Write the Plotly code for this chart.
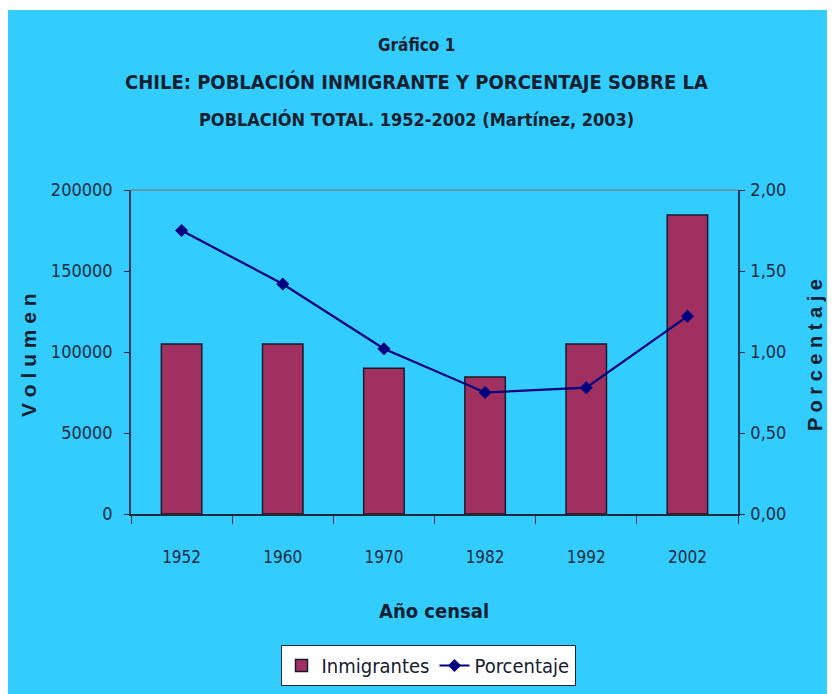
import plotly.graph_objects as go

years = ["1952", "1960", "1970", "1982", "1992", "2002"]
inmigrantes = [105000, 105000, 90000, 84500, 105000, 184500]
porcentaje = [1.75, 1.42, 1.02, 0.75, 0.78, 1.22]
left_ticks = [0, 50000, 100000, 150000, 200000]
right_ticks = [0, 0.5, 1.0, 1.5, 2.0]
right_ticktext = ["0,00", "0,50", "1,00", "1,50", "2,00"]

# The page body has an 8px margin, so the figure is 8px smaller and all
# reference pixel coordinates are shifted by OFF.
OFF = 8
W, H = 835 - OFF, 694 - OFF
L, T = 131 - OFF, 190 - OFF
PW, PH = 607, 324
R, B = W - L - PW, H - T - PH

def px(x):
    return (x - OFF - L) / PW

def py(y):
    return (T + PH - (y - OFF)) / PH

FONT = "DejaVu Sans Condensed, Liberation Sans Narrow, Arial Narrow, sans-serif"
TXT = "#14202e"
BG = "#33CCFF"

fig = go.Figure()
fig.add_trace(go.Bar(
    x=years, y=inmigrantes, name="Inmigrantes",
    marker=dict(color="#A0305F", line=dict(color="#1a1a2a", width=1.5)),
    yaxis="y",
))
fig.add_trace(go.Scatter(
    x=years, y=porcentaje, name="Porcentaje", mode="lines+markers",
    line=dict(color="#000080", width=2.2),
    marker=dict(symbol="diamond", size=10, color="#000080"),
    yaxis="y2",
))

fig.update_layout(
    width=W, height=H,
    margin=dict(l=L, r=R, t=T, b=B, autoexpand=False),
    paper_bgcolor=BG, plot_bgcolor=BG,
    bargap=0.6,
    separators=",.",
    font=dict(family=FONT, color=TXT, size=18),
    showlegend=True,
    legend=dict(
        orientation="h", x=px(428), xanchor="center", y=py(645), yanchor="top",
        bgcolor="white", bordercolor="#1a2a3a", borderwidth=1,
        font=dict(family=FONT, size=20, color="#14202e"),
        itemwidth=30, traceorder="normal",
    ),
    xaxis=dict(
        type="category", tickson="boundaries", ticks="outside", ticklen=8,
        tickcolor="#1a2a3a", showline=True, linecolor="#1a2a3a", linewidth=1.5,
        showgrid=False, zeroline=False, ticklabelstandoff=27,
        tickfont=dict(family=FONT, size=17, color="#1c2c3c"),
    ),
    yaxis=dict(
        range=[0, 200000], tickvals=left_ticks, tickformat="d",
        ticks="outside", ticklen=5, tickcolor="#1a2a3a",
        showline=True, linecolor="#1a3a5a", linewidth=1.5,
        showgrid=False, zeroline=False, ticklabelstandoff=8,
        tickfont=dict(family=FONT, size=18, color="#1c2c3c"),
    ),
    yaxis2=dict(
        range=[0, 2], tickvals=right_ticks, ticktext=right_ticktext,
        overlaying="y", side="right",
        ticks="outside", ticklen=5, tickcolor="#1a2a3a",
        showline=True, linecolor="#1a3a5a", linewidth=1.5,
        showgrid=False, zeroline=False, ticklabelstandoff=2,
        tickfont=dict(family=FONT, size=18, color="#1c2c3c"),
    ),
)

# white strip on top and plot-area top border
fig.add_shape(type="rect", xref="paper", yref="paper", layer="below",
              x0=px(OFF), x1=px(835), y0=py(10), y1=py(OFF),
              fillcolor="white", line=dict(width=0))
fig.add_shape(type="line", xref="paper", yref="paper",
              x0=0, x1=1, y0=1, y1=1, line=dict(color="#6f8a9a", width=1.5))

titles = [
    ("Gráfico 1", 45, 17),
    ("CHILE: POBLACIÓN INMIGRANTE Y PORCENTAJE SOBRE LA", 82, 20),
    ("POBLACIÓN TOTAL. 1952-2002 (Martínez, 2003)", 120, 18),
]
for text, yy, sz in titles:
    fig.add_annotation(text="<b>" + text + "</b>", xref="paper", yref="paper",
                       x=px(416), y=py(yy), showarrow=False,
                       xanchor="center", yanchor="middle",
                       font=dict(family=FONT, size=sz, color=TXT))

fig.add_annotation(text="<b>Año censal</b>", xref="paper", yref="paper",
                   x=px(434), y=py(611), showarrow=False,
                   xanchor="center", yanchor="middle",
                   font=dict(family=FONT, size=20, color=TXT))
fig.add_annotation(text="<b>V o l u m e n</b>", xref="paper", yref="paper",
                   x=px(28), y=py(355), showarrow=False, textangle=-90,
                   xanchor="center", yanchor="middle",
                   font=dict(family="Liberation Sans, Arial, sans-serif", size=21, color=TXT))
fig.add_annotation(text="<b>P o r c e n t a j e</b>", xref="paper", yref="paper",
                   x=px(815), y=py(355), showarrow=False, textangle=-90,
                   xanchor="center", yanchor="middle",
                   font=dict(family="Liberation Sans, Arial, sans-serif", size=20, color=TXT))

fig.write_html("out.html")
